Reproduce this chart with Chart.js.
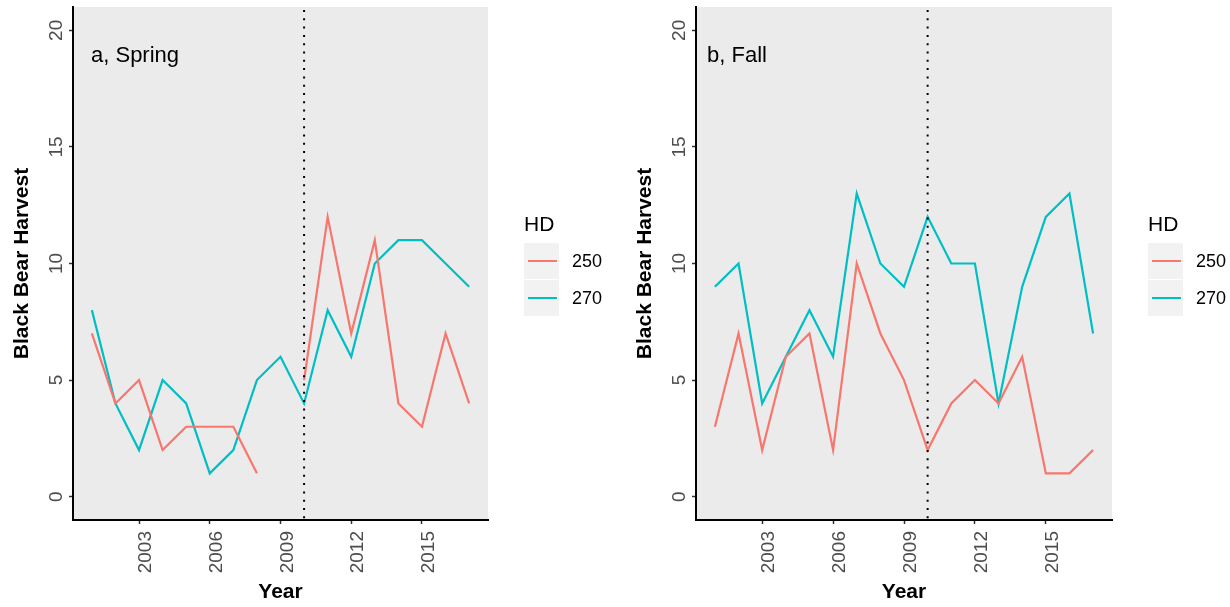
<!DOCTYPE html>
<html>
<head>
<meta charset="utf-8">
<script src="https://cdn.jsdelivr.net/npm/chart.js@4"></script>
<style>
  html, body { margin: 0; padding: 0; background: #fff; }
  #wrap { position: relative; width: 1230px; height: 607px; }
  canvas { position: absolute; top: 0; }
  #spring { left: 0; }
  #fall { left: 615px; }
</style>
</head>
<body>
<div id="wrap">
  <canvas id="spring" width="615" height="607"></canvas>
  <canvas id="fall" width="615" height="607"></canvas>
</div>
<script>
// harvest by year, split by hunting district
const years = [2001, 2002, 2003, 2004, 2005, 2006, 2007, 2008, 2009, 2010, 2011, 2012, 2013, 2014, 2015, 2016, 2017];
const springHD250 = [7, 4, 5, 2, 3, 3, 3, 1, null, 5, 12, 7, 11, 4, 3, 7, 4];
const springHD270 = [8, 4, 2, 5, 4, 1, 2, 5, 6, 4, 8, 6, 10, 11, 11, 10, 9];
const fallHD250 = [3, 7, 2, 6, 7, 2, 10, 7, 5, 2, 4, 5, 4, 6, 1, 1, 2];
const fallHD270 = [9, 10, 4, 6, 8, 6, 13, 10, 9, 12, 10, 10, 4, 9, 12, 13, 7];
const districts = ['250', '270'];
const xTicks = [2003, 2006, 2009, 2012, 2015];
const yTicks = [0, 5, 10, 15, 20];
const breakYear = 2010;

const colors = ['#F8766D', '#00BFC4'];
const FONT = '"Liberation Sans", Arial, sans-serif';
const TICK_SIZE = 19;

function points(vals) {
  return years.map((yr, i) => ({ x: yr, y: vals[i] }));
}

// grey panel, dotted reference line, panel tag, y labels and the HD legend
const panelPlugin = {
  id: 'panel',
  beforeDraw(chart) {
    const a = chart.chartArea;
    const ctx = chart.ctx;
    ctx.save();
    ctx.fillStyle = '#EBEBEB';
    ctx.fillRect(a.left, a.top, a.right - a.left, a.bottom - a.top);
    ctx.restore();
  },
  afterDatasetsDraw(chart) {
    const a = chart.chartArea;
    const ctx = chart.ctx;
    const x = chart.scales.x.getPixelForValue(breakYear);
    ctx.save();
    ctx.strokeStyle = '#000';
    ctx.lineWidth = 2;
    ctx.setLineDash([2, 6.3]);
    ctx.beginPath();
    ctx.moveTo(x, a.top + 3);
    ctx.lineTo(x, a.bottom);
    ctx.stroke();
    ctx.restore();
  },
  afterDraw(chart, args, opts) {
    const a = chart.chartArea;
    const ctx = chart.ctx;
    ctx.save();

    // panel tag
    ctx.fillStyle = '#000';
    ctx.font = '22px ' + FONT;
    ctx.textAlign = 'left';
    ctx.textBaseline = 'middle';
    ctx.fillText(opts.tag, a.left + opts.tagOffset, 56);

    // y tick labels, rotated like the x ones
    const ys = chart.scales.y;
    ctx.fillStyle = '#4D4D4D';
    ctx.font = TICK_SIZE + 'px ' + FONT;
    ctx.textAlign = 'center';
    ctx.textBaseline = 'alphabetic';
    ys.ticks.forEach(t => {
      ctx.save();
      ctx.translate(a.left - 11, ys.getPixelForValue(t.value));
      ctx.rotate(-Math.PI / 2);
      ctx.fillText(String(t.value), 0, 0);
      ctx.restore();
    });

    // legend
    const boxLeft = a.right + 36;
    ctx.fillStyle = '#000';
    ctx.font = '21px ' + FONT;
    ctx.textAlign = 'left';
    ctx.textBaseline = 'middle';
    ctx.fillText('HD', boxLeft, 225);
    chart.data.datasets.forEach((ds, i) => {
      const top = 243 + i * 37;
      ctx.fillStyle = '#F2F2F2';
      ctx.fillRect(boxLeft, top, 35, 36);
      ctx.strokeStyle = ds.borderColor;
      ctx.lineWidth = 2;
      ctx.beginPath();
      ctx.moveTo(boxLeft + 4, top + 18);
      ctx.lineTo(boxLeft + 33, top + 18);
      ctx.stroke();
      ctx.fillStyle = '#000';
      ctx.font = '18px ' + FONT;
      ctx.fillText(ds.label, boxLeft + 48, top + 19);
    });
    ctx.restore();
  }
};

function makeChart(id, series, tag, tagOffset, padLeft, padRight) {
  return new Chart(document.getElementById(id), {
    type: 'line',
    data: {
      datasets: series.map((vals, i) => ({
        label: districts[i],
        data: points(vals),
        borderColor: colors[i],
        backgroundColor: colors[i],
        borderWidth: 2.2,
        pointRadius: 0,
        tension: 0,
        spanGaps: false
      }))
    },
    options: {
      responsive: false,
      animation: false,
      devicePixelRatio: 1,
      layout: { padding: { left: padLeft, right: padRight, top: 7, bottom: 0 } },
      plugins: {
        legend: { display: false },
        tooltip: { enabled: false },
        panel: { tag: tag, tagOffset: tagOffset }
      },
      scales: {
        x: {
          type: 'linear',
          min: 2000.2,
          max: 2017.8,
          afterBuildTicks: s => { s.ticks = xTicks.map(v => ({ value: v })); },
          afterFit: s => { s.height = 87; },
          ticks: {
            minRotation: 90,
            maxRotation: 90,
            padding: 7,
            labelOffset: 7,
            color: '#4D4D4D',
            font: { family: FONT, size: TICK_SIZE },
            callback: v => String(v)
          },
          grid: { drawOnChartArea: false, drawTicks: true, tickLength: 4, tickColor: '#333', tickWidth: 1.5 },
          border: { display: true, color: '#000', width: 2 },
          title: {
            display: true,
            text: 'Year',
            color: '#000',
            font: { family: FONT, size: 21, weight: 'bold' },
            padding: { top: 0, bottom: 2 }
          }
        },
        y: {
          min: -1,
          max: 21,
          afterBuildTicks: s => { s.ticks = yTicks.map(v => ({ value: v })); },
          afterFit: s => { s.width = 73; },
          ticks: { display: false },
          grid: { drawOnChartArea: false, drawTicks: true, tickLength: 4, tickColor: '#333', tickWidth: 1.5 },
          border: { display: true, color: '#000', width: 2 },
          title: {
            display: true,
            text: 'Black Bear Harvest',
            color: '#000',
            font: { family: FONT, size: 21, weight: 'bold' },
            padding: { top: 9.5, bottom: 0 }
          }
        }
      }
    },
    plugins: [panelPlugin]
  });
}

makeChart('spring', [springHD250, springHD270], 'a, Spring', 18, 0, 127);
makeChart('fall', [fallHD250, fallHD270], 'b, Fall', 11, 8, 118);
</script>
</body>
</html>
